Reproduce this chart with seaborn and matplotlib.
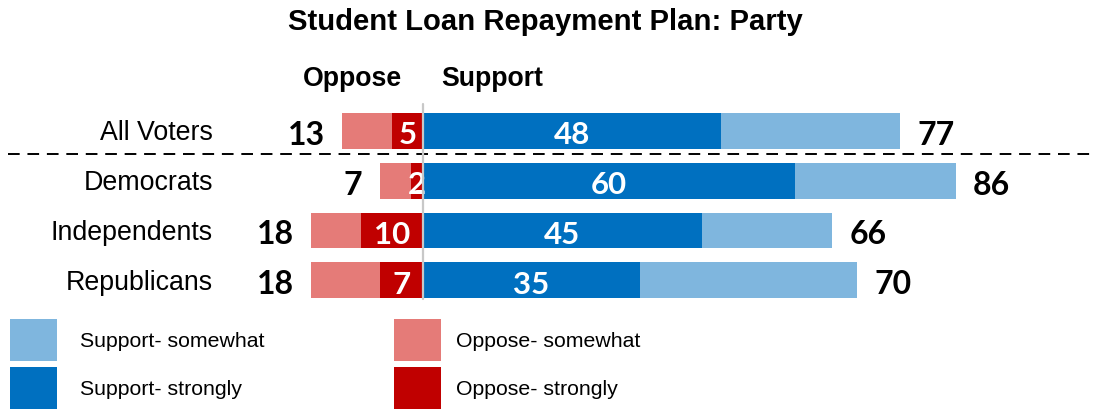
import matplotlib
matplotlib.use('Agg')
import matplotlib.pyplot as plt
import seaborn as sns
import pandas as pd
from matplotlib.patches import Patch
from matplotlib.transforms import blended_transform_factory

# ---- data ----
categories = ['All Voters', 'Democrats', 'Independents', 'Republicans']
support_strong = [48, 60, 45, 35]
support_total = [77, 86, 66, 70]
oppose_strong = [5, 2, 10, 7]
oppose_total = [13, 7, 18, 18]
support_legend = ['Support- somewhat', 'Support- strongly']
oppose_legend = ['Oppose- somewhat', 'Oppose- strongly']
title = 'Student Loan Repayment Plan: Party'

# ---- style ----
LB = '#7FB6DE'
DB = '#0070C0'
LR = '#E57B78'
DR = '#C00000'

sns.set_theme(style='white')
plt.rcParams['font.family'] = ['Liberation Sans', 'DejaVu Sans']
plt.rcParams['text.color'] = 'black'
NUM_FONT = ['Lato', 'DejaVu Sans']

W, H = 1096, 410
fig = plt.figure(figsize=(W / 100, H / 100), dpi=100)
ax = fig.add_axes([0, 0, 1, 1])

df = pd.DataFrame({
    'group': categories,
    'sup_tot': support_total,
    'sup_str': support_strong,
    'opp_tot': [-v for v in oppose_total],
    'opp_str': [-v for v in oppose_strong],
})

bw = 0.72
common = dict(data=df, y='group', order=categories, width=bw, ax=ax,
              saturation=1, linewidth=0, errorbar=None, orient='h')
sns.barplot(x='sup_tot', color=LB, **common)
sns.barplot(x='sup_str', color=DB, **common)
sns.barplot(x='opp_tot', color=LR, **common)
sns.barplot(x='opp_str', color=DR, **common)

# scale: zero at 423 px, 6.2 px per unit; rows 49.7 px apart, first at 132 px
PX = 6.2
x0 = 423
ax.set_xlim(-x0 / PX, (W - x0) / PX)
ax.set_ylim((H - 132) / 49.7, -132 / 49.7)
ax.axis('off')

gap = 17 / PX
off_num = 0.26
for i, cat in enumerate(categories):
    ax.text(support_total[i] + gap, i + off_num, str(support_total[i]), ha='left', va='baseline',
            fontsize=23, fontweight='bold', family=NUM_FONT, color='black')
    ax.text(-oppose_total[i] - gap, i + off_num, str(oppose_total[i]), ha='right', va='baseline',
            fontsize=23, fontweight='bold', family=NUM_FONT, color='black')
    ax.text(support_strong[i] / 2, i + 0.25, str(support_strong[i]), ha='center', va='baseline',
            fontsize=22.5, fontweight='bold', family=NUM_FONT, color='white')
    ax.text(-oppose_strong[i] / 2, i + 0.25, str(oppose_strong[i]), ha='center', va='baseline',
            fontsize=22.5, fontweight='bold', family=NUM_FONT, color='white')

# category labels
tr = blended_transform_factory(ax.transAxes, ax.transData)
for i, cat in enumerate(categories):
    ax.text(213 / W, i + 0.17, cat, transform=tr, ha='right', va='baseline',
            fontsize=19.3, color='black')

# dashed separator and center line
ax.axhline((155 - 132) / 49.7, xmin=8 / W, xmax=1, color='black', lw=1.4,
           linestyle=(0, (6, 4)))
ax.axvline(0, ymin=1 - 300 / H, ymax=1 - 105 / H, color='#C8C8C8', lw=1.6, zorder=5)

# headers and title
fig.text(402 / W, 1 - 86 / H, 'Oppose', ha='right', va='baseline', fontsize=19.2, fontweight='bold')
fig.text(441 / W, 1 - 86 / H, 'Support', ha='left', va='baseline', fontsize=19.2, fontweight='bold')
fig.text(545.5 / W, 1 - 30 / H, title, ha='center', va='baseline', fontsize=21.1, fontweight='bold')

# legend (two columns, drawn as two figure legends)
fs = 15.3
fpx = fs * 100 / 72
hh = (42 / fpx - 0.245) / 0.65
leg_kw = dict(loc='upper left', frameon=False, fontsize=fs, borderpad=0, borderaxespad=0,
              handlelength=47 / fpx, handleheight=hh, labelspacing=6 / fpx)
h_sup = [Patch(facecolor=c, edgecolor='none', linewidth=0) for c in [LB, DB]]
h_opp = [Patch(facecolor=c, edgecolor='none', linewidth=0) for c in [LR, DR]]
fig.legend(h_sup, support_legend, bbox_to_anchor=(10 / W, 1 - 320 / H),
           handletextpad=23 / fpx, **leg_kw)
fig.legend(h_opp, oppose_legend, bbox_to_anchor=(394 / W, 1 - 320 / H),
           handletextpad=15 / fpx, **leg_kw)

fig.savefig('out.png', dpi=100)
